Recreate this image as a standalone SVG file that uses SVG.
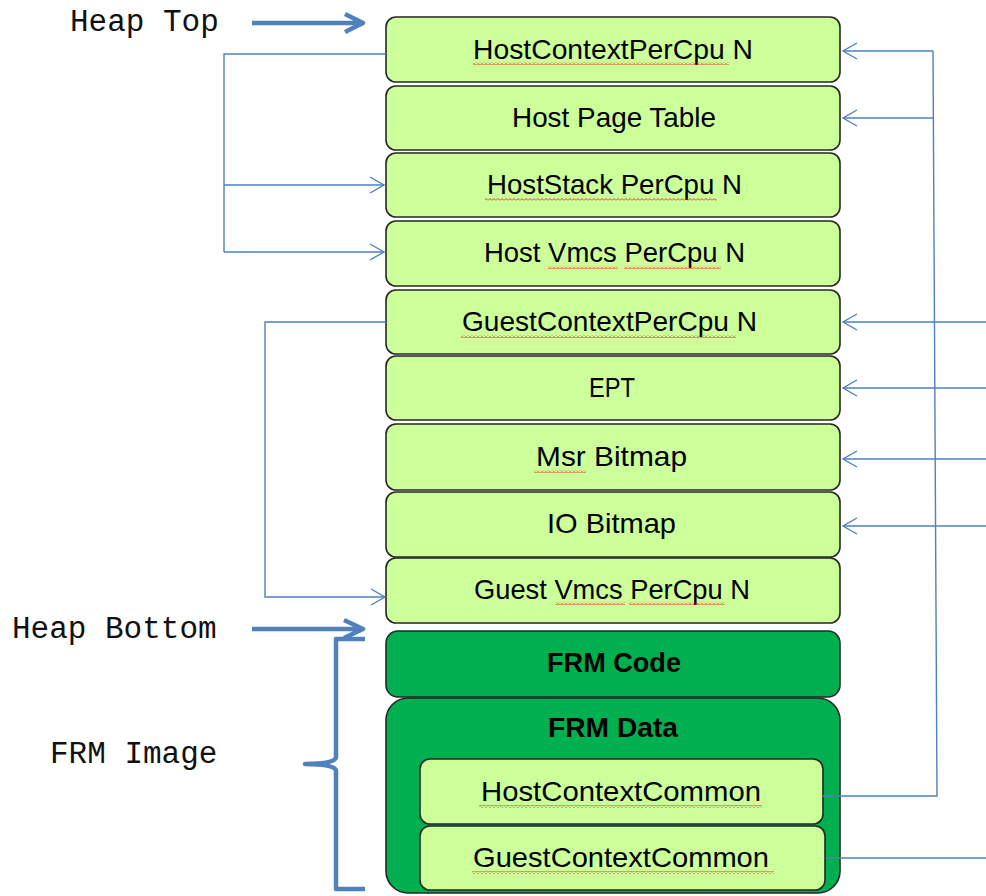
<svg xmlns="http://www.w3.org/2000/svg" width="986" height="896" viewBox="0 0 986 896">
<style>
.box{fill:#ccff99;stroke:#262626;stroke-width:1.6}
.dark{fill:#00b050;stroke:#262626;stroke-width:1.6}
.t{font-family:"Liberation Sans",Arial,sans-serif;font-size:28px;fill:#000}
.tb{font-family:"Liberation Sans",Arial,sans-serif;font-size:28px;font-weight:bold;fill:#000}
.mono{font-family:"Liberation Mono","Courier New",monospace;font-size:31px;fill:#111}
.conn{fill:none;stroke:#4f81bd;stroke-width:1.4}
.thick{fill:none;stroke:#4f81bd;stroke-width:4.5;stroke-linejoin:round}
.wavy{fill:url(#wavy)}
</style>
<defs>
<marker id="open" viewBox="0 0 16 18" refX="15" refY="9" markerWidth="16" markerHeight="18" markerUnits="userSpaceOnUse" orient="auto">
<path d="M1,1 L15,9 L1,17" fill="none" stroke="#4f81bd" stroke-width="1.4"/>
</marker>
<pattern id="wavy" patternUnits="userSpaceOnUse" width="4" height="3">
<path d="M0,2.5 L2,0.5 L4,2.5" fill="none" stroke="#e02020" stroke-width="0.9"/>
</pattern>
</defs>

<g id="labels">
<text class="mono" x="70" y="31">Heap Top</text>
<text class="mono" x="12" y="638">Heap Bottom</text>
<text class="mono" x="50" y="763">FRM Image</text>
<path class="thick" d="M252,23 L362,23 M345,14 L363,23 L345,32"/>
<path class="thick" d="M252,629 L362,629 M344,620 L363,629 L344,638"/>
<path class="thick" d="M365,639 L336,639 L336,757 Q336,764 305,764 Q336,764 336,771 L336,889 L365,889"/>
</g>

<g id="n1"><rect class="box" x="386" y="17" width="454" height="65" rx="10"/><text class="t" x="473" y="59" textLength="280" lengthAdjust="spacingAndGlyphs">HostContextPerCpu N</text><rect class="wavy" x="473" y="62" width="256" height="3"/></g>
<g id="n2"><rect class="box" x="386" y="86" width="454" height="64" rx="10"/><text class="t" x="512" y="127" textLength="204" lengthAdjust="spacingAndGlyphs">Host Page Table</text></g>
<g id="n3"><rect class="box" x="386" y="153" width="454" height="64" rx="10"/><text class="t" x="487" y="194" textLength="255" lengthAdjust="spacingAndGlyphs">HostStack PerCpu N</text><rect class="wavy" x="485" y="198" width="232" height="3"/></g>
<g id="n4"><rect class="box" x="386" y="221" width="454" height="65" rx="10"/><text class="t" x="484" y="262" textLength="261" lengthAdjust="spacingAndGlyphs">Host Vmcs PerCpu N</text><rect class="wavy" x="548" y="266" width="70" height="3"/><rect class="wavy" x="624" y="266" width="97" height="3"/></g>
<g id="n5"><rect class="box" x="386" y="290" width="454" height="64" rx="10"/><text class="t" x="462" y="331" textLength="295" lengthAdjust="spacingAndGlyphs">GuestContextPerCpu N</text><rect class="wavy" x="461" y="335" width="275" height="3"/></g>
<g id="n6"><rect class="box" x="386" y="356" width="454" height="64" rx="10"/><text class="t" x="589" y="397" textLength="46" lengthAdjust="spacingAndGlyphs">EPT</text></g>
<g id="n7"><rect class="box" x="386" y="424" width="454" height="66" rx="10"/><text class="t" x="536" y="466" textLength="151" lengthAdjust="spacingAndGlyphs">Msr Bitmap</text><rect class="wavy" x="534" y="470" width="52" height="3"/></g>
<g id="n8"><rect class="box" x="386" y="492" width="454" height="65" rx="10"/><text class="t" x="547" y="533" textLength="129" lengthAdjust="spacingAndGlyphs">IO Bitmap</text></g>
<g id="n9"><rect class="box" x="386" y="558" width="454" height="65" rx="10"/><text class="t" x="474" y="599" textLength="276" lengthAdjust="spacingAndGlyphs">Guest Vmcs PerCpu N</text><rect class="wavy" x="555" y="602" width="70" height="3"/><rect class="wavy" x="629" y="602" width="96" height="3"/></g>
<g id="frmcode"><rect class="dark" x="386" y="631" width="454" height="66" rx="12"/><text class="tb" x="547" y="672" textLength="134" lengthAdjust="spacingAndGlyphs">FRM Code</text></g>
<g id="frmdata"><rect class="dark" x="386" y="698" width="454" height="195" rx="22"/><text class="tb" x="548" y="737" textLength="130" lengthAdjust="spacingAndGlyphs">FRM Data</text></g>
<g id="hcc"><rect class="box" x="420" y="759" width="403" height="65" rx="10"/><text class="t" x="481" y="801" textLength="280" lengthAdjust="spacingAndGlyphs">HostContextCommon</text><rect class="wavy" x="479" y="805" width="283" height="3"/></g>
<g id="gcc"><rect class="box" x="420" y="826" width="405" height="64" rx="10"/><text class="t" x="473" y="867" textLength="296" lengthAdjust="spacingAndGlyphs">GuestContextCommon</text><rect class="wavy" x="472" y="871" width="302" height="3"/></g>

<g id="connectors">
<path class="conn" d="M386,54 L224,54 L224,252"/>
<path class="conn" d="M224,185 L384,185" marker-end="url(#open)"/>
<path class="conn" d="M224,252 L384,252" marker-end="url(#open)"/>
<path class="conn" d="M386,322 L265,322 L265,597 L385,597" marker-end="url(#open)"/>
<path class="conn" d="M823,796 L937,796 L933,51"/>
<path class="conn" d="M933,51 L843,51" marker-end="url(#open)"/>
<path class="conn" d="M933,118 L843,118" marker-end="url(#open)"/>
<path class="conn" d="M986,322 L843,322" marker-end="url(#open)"/>
<path class="conn" d="M986,388 L843,388" marker-end="url(#open)"/>
<path class="conn" d="M986,459 L843,459" marker-end="url(#open)"/>
<path class="conn" d="M986,526 L843,526" marker-end="url(#open)"/>
<path class="conn" d="M826,858 L986,858"/>
</g>
</svg>
